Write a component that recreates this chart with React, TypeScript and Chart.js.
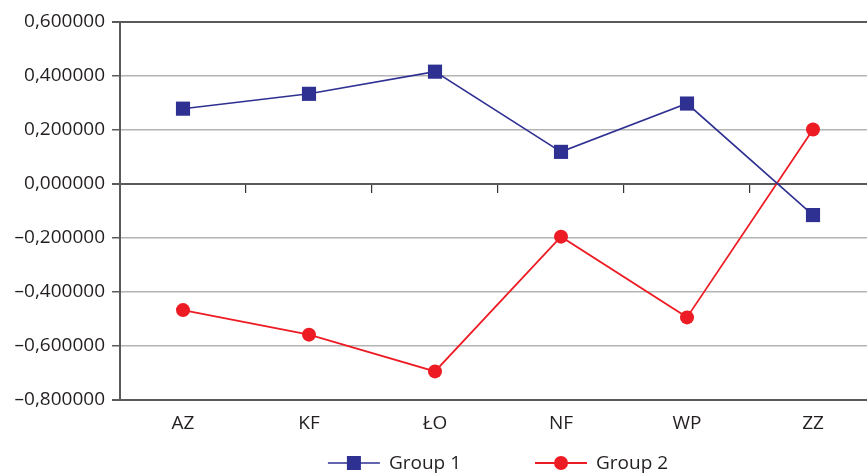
import React, { useEffect, useRef } from "react";
import { Chart, registerables } from "chart.js";

Chart.register(...registerables);

const categories = ["AZ", "KF", "ŁO", "NF", "WP", "ZZ"];
const group1Values = [0.279, 0.334, 0.416, 0.119, 0.298, -0.115];
const group2Values = [-0.467, -0.558, -0.694, -0.195, -0.494, 0.202];
const seriesNames = ["Group 1", "Group 2"];
const yTickValues = [-0.8, -0.6, -0.4, -0.2, 0, 0.2, 0.4, 0.6];
const yTickLabels = [
  "–0,800000",
  "–0,600000",
  "–0,400000",
  "–0,200000",
  "0,000000",
  "0,200000",
  "0,400000",
  "0,600000",
];

const FONT = "'Open Sans', 'DejaVu Sans', sans-serif";
const FONT_SIZE = 19;
const TEXT = "#231f20";
const DARK = "#5a5a5a";
const LIGHT = "#b4b4b4";
const BLUE = "#2e3192";
const RED = "#ed1c24";

const legendPlugin = {
  id: "lineLegend",
  afterDraw(chart: any) {
    const { ctx, chartArea } = chart;
    const y = 463;
    const lineLen = 52;
    const gap = 9;
    const spacing = 74;
    ctx.save();
    ctx.font = `${FONT_SIZE}px ${FONT}`;
    const items = chart.data.datasets.map((ds: any) => ({
      ds,
      tw: ctx.measureText(ds.label).width,
    }));
    const total =
      items.reduce((s: number, it: any) => s + lineLen + gap + it.tw, 0) +
      spacing * (items.length - 1);
    let x = (chartArea.left + chartArea.right) / 2 - total / 2;
    items.forEach((it: any) => {
      const ds = it.ds;
      ctx.strokeStyle = ds.borderColor;
      ctx.lineWidth = ds.borderWidth;
      ctx.beginPath();
      ctx.moveTo(x, y);
      ctx.lineTo(x + lineLen, y);
      ctx.stroke();
      ctx.fillStyle = ds.pointBackgroundColor;
      const cx = x + lineLen / 2;
      if (ds.pointStyle === "rect") {
        ctx.fillRect(cx - 7, y - 7, 14, 14);
      } else {
        ctx.beginPath();
        ctx.arc(cx, y, 7, 0, Math.PI * 2);
        ctx.fill();
      }
      ctx.fillStyle = TEXT;
      ctx.textBaseline = "middle";
      ctx.textAlign = "left";
      ctx.fillText(ds.label, x + lineLen + gap, y + 1);
      x += lineLen + gap + it.tw + spacing;
    });
    ctx.restore();
  },
};

export default function App() {
  const ref = useRef<HTMLCanvasElement | null>(null);
  useEffect(() => {
    if (!ref.current) return;
    const chart = new Chart(ref.current, {
      type: "line",
      data: {
        labels: categories,
        datasets: [
          {
            label: seriesNames[0],
            data: group1Values,
            borderColor: BLUE,
            backgroundColor: BLUE,
            pointBackgroundColor: BLUE,
            pointBorderColor: BLUE,
            borderWidth: 1.6,
            pointStyle: "rect",
            pointRadius: 10,
            pointBorderWidth: 0,
            tension: 0,
          },
          {
            label: seriesNames[1],
            data: group2Values,
            borderColor: RED,
            backgroundColor: RED,
            pointBackgroundColor: RED,
            pointBorderColor: RED,
            borderWidth: 1.8,
            pointStyle: "circle",
            pointRadius: 7,
            pointBorderWidth: 0,
            tension: 0,
          },
        ],
      },
      options: {
        animation: false,
        responsive: false,
        maintainAspectRatio: false,
        devicePixelRatio: 1,
        layout: {
          autoPadding: false,
          padding: { left: 0, right: 0, top: 22, bottom: 0 },
        },
        plugins: {
          legend: { display: false },
          tooltip: { enabled: false },
        },
        scales: {
          x: {
            type: "category",
            position: "bottom",
            offset: true,
            grid: { display: false },
            border: { display: true, color: DARK, width: 2 },
            ticks: {
              color: TEXT,
              font: { family: FONT, size: FONT_SIZE },
              padding: 4,
              maxRotation: 0,
            },
            afterFit(scale: any) {
              scale.height = 73;
            },
          },
          x2: {
            type: "category",
            position: { y: 0 } as any,
            offset: true,
            grid: {
              offset: true,
              drawOnChartArea: false,
              drawTicks: true,
              tickLength: 9,
              color: "#333333",
              lineWidth: 1.2,
            },
            border: { display: false },
            ticks: { display: false },
          },
          y: {
            min: -0.8,
            max: 0.6,
            afterBuildTicks(scale: any) {
              scale.ticks = yTickValues.map((v) => ({ value: v }));
            },
            grid: {
              color: (c: any) => {
                const v = c.tick ? c.tick.value : null;
                if (v === null) return LIGHT;
                return Math.abs(v) < 1e-9 || Math.abs(v - 0.6) < 1e-9 || Math.abs(v + 0.8) < 1e-9
                  ? DARK
                  : LIGHT;
              },
              lineWidth: (c: any) => {
                const v = c.tick ? c.tick.value : null;
                if (v === null) return 1.5;
                return Math.abs(v) < 1e-9 || Math.abs(v - 0.6) < 1e-9 || Math.abs(v + 0.8) < 1e-9
                  ? 2
                  : 1.5;
              },
              tickColor: DARK,
              tickLength: 8,
            },
            border: { display: true, color: DARK, width: 2 },
            ticks: {
              color: TEXT,
              font: { family: FONT, size: FONT_SIZE },
              padding: 7,
              callback: (_v: any, i: number) => yTickLabels[i],
            },
            afterFit(scale: any) {
              scale.width = 120;
            },
          },
        },
      },
      plugins: [legendPlugin],
    });
    return () => chart.destroy();
  }, []);
  return (
    <div
      style={{
        position: "fixed",
        left: 0,
        top: 0,
        width: 867,
        height: 473,
        overflow: "hidden",
        background: "#fff",
      }}
    >
      <canvas
        ref={ref}
        width={876}
        height={473}
        style={{ display: "block", width: 876, height: 473 }}
      />
    </div>
  );
}
